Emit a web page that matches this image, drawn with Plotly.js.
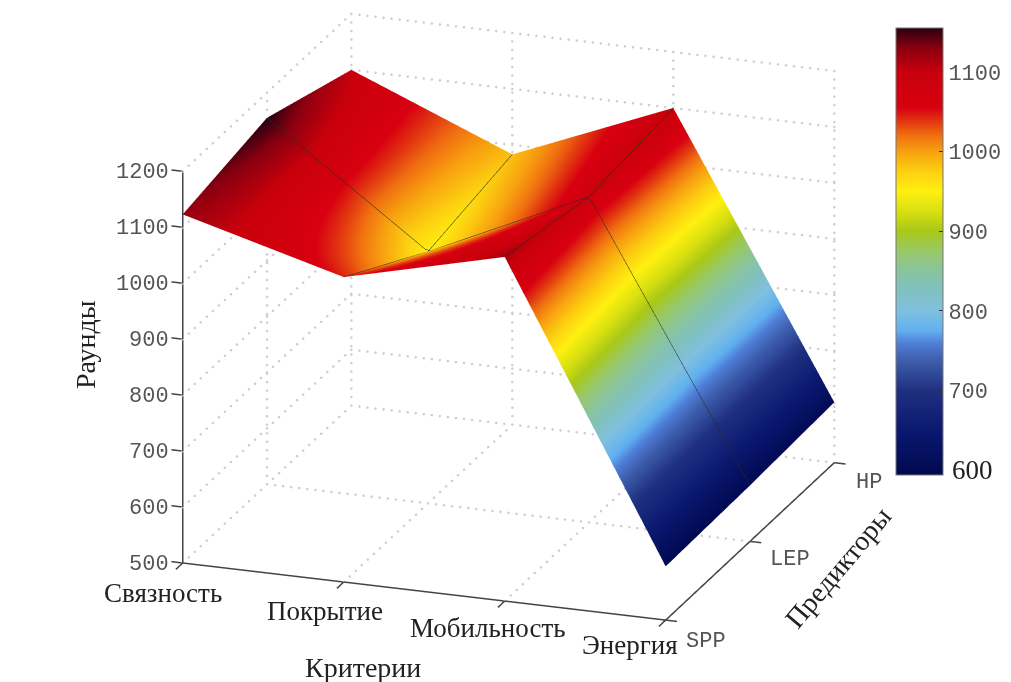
<!DOCTYPE html>
<html><head><meta charset="utf-8">
<script src="https://cdn.plot.ly/plotly-3.0.1.min.js"></script>
<style>html,body{margin:0;padding:0;background:#fff}#c{width:1011px;height:682px}</style>
</head><body><div id="c"></div>
<script>
const criteria = ['Связность','Покрытие','Мобильность','Энергия'];
const predictors = ['SPP','LEP','HP'];
const roundsSPP = [1123,1045,1115,596];
const roundsLEP = [1155,950,1082,600];
const roundsHP  = [1100,983,1100,608];
const zTicks = [500,600,700,800,900,1000,1100,1200];
const cbTicks = [700,800,900,1000,1100];
const cMin = 594, cMax = 1155;
const colorStops = [[594,'#000850'],[650,'#0a1870'],[700,'#203080'],[740,'#4060b0'],[760,'#5080d8'],[775,'#60b0f0'],[800,'#80c0e0'],[825,'#80c0c0'],[850,'#88c4a0'],[875,'#98c868'],[900,'#a8c818'],[925,'#d8e010'],[950,'#fff010'],[975,'#fcd010'],[1000,'#f8a010'],[1020,'#f07010'],[1040,'#e03010'],[1055,'#d80010'],[1100,'#c8000c'],[1130,'#8a0010'],[1155,'#2a0010']];
const colorscale = colorStops.map(s=>[(s[0]-cMin)/(cMax-cMin),s[1]]);
const xi = criteria.map((_,i)=>i), yi = predictors.map((_,i)=>i);
const zr = [500,1200];
const xM=xi[xi.length-1], yM=yi[yi.length-1];
const pad=0.1, zPad=5;

// dotted grid on the three back walls, drawn as small dots (skipping lines that coincide with the solid axes)
const gx=[],gy=[],gz=[];
function dots(a,b,n){for(let i=0;i<=n;i++){const t=i/n;gx.push(a[0]+(b[0]-a[0])*t);gy.push(a[1]+(b[1]-a[1])*t);gz.push(a[2]+(b[2]-a[2])*t);}}
const nX=60,nY=28,nZ=46;
xi.forEach(x=>{if(x!==xM)dots([x,0,zr[0]],[x,yM,zr[0]],nY);dots([x,yM,zr[0]],[x,yM,zr[1]],nZ);});
yi.forEach(y=>{if(y!==0){dots([0,y,zr[0]],[xM,y,zr[0]],nX);dots([0,y,zr[0]],[0,y,zr[1]],nZ);}});
zTicks.forEach(z=>{dots([0,0,z],[0,yM,z],nY);dots([0,yM,z],[xM,yM,z],nX);});

// solid axis lines and tick marks
const ax=[],ay=[],az=[];
function seg(a,b){ax.push(a[0],b[0],null);ay.push(a[1],b[1],null);az.push(a[2],b[2],null);}
seg([0,0,zr[0]],[xM,0,zr[0]]);
seg([xM,0,zr[0]],[xM,yM,zr[0]]);
seg([0,0,zr[0]],[0,0,zr[1]]);
xi.forEach(x=>seg([x,0,zr[0]],[x,-0.08,zr[0]]));
yi.forEach(y=>seg([xM,y,zr[0]],[xM+0.07,y,zr[0]]));
zTicks.forEach(z=>seg([0,0,z],[-0.07,0,z]));

const surf = {type:'surface',x:xi,y:yi,z:[roundsSPP,roundsLEP,roundsHP],
  colorscale,cmin:cMin,cmax:cMax,hoverinfo:'skip',
  lighting:{ambient:1,diffuse:0,specular:0,roughness:1,fresnel:0},
  contours:{x:{show:true,start:0,end:3,size:1,color:'#2a2a18',width:1,highlight:false},
            y:{show:true,start:0,end:2,size:1,color:'#2a2a18',width:1,highlight:false},
            z:{show:false,highlight:false}},
  colorbar:{x:896/1011,xanchor:'left',xpad:0,y:1-251.5/682,yanchor:'middle',ypad:0,lenmode:'pixels',len:447,thicknessmode:'pixels',thickness:47,
    tickvals:cbTicks,ticktext:cbTicks.map(String),ticks:'inside',ticklen:4,tickcolor:'#333',outlinecolor:'#777',outlinewidth:1,
    tickfont:{family:'Liberation Mono',size:22,color:'#555'}}};
const grid = {type:'scatter3d',mode:'markers',x:gx,y:gy,z:gz,showlegend:false,hoverinfo:'skip',
  marker:{color:'#cfcfcf',size:1.5,line:{width:0}}};
const axes = {type:'scatter3d',mode:'lines',x:ax,y:ay,z:az,connectgaps:false,showlegend:false,hoverinfo:'skip',
  line:{color:'#444',width:3}};
const axBase = {visible:false,showbackground:false,showgrid:false,zeroline:false,showspikes:false,showline:false,ticks:'',showticklabels:false,title:{text:''}};
const serif={family:'Liberation Serif',size:27,color:'#222'}, mono={family:'Liberation Mono',size:22,color:'#555'};
const sceneNotes=[];
const xShift=[[-20,-30],[-19,-29],[-17,-27],[-36,-25]];
criteria.forEach((t,i)=>sceneNotes.push({x:i,y:0,z:zr[0],text:t,showarrow:false,font:serif,xanchor:'center',yanchor:'middle',xshift:xShift[i][0],yshift:xShift[i][1]}));
const yShift=[[40,-21],[40,-18],[35,-20]];
predictors.forEach((t,i)=>sceneNotes.push({x:xM,y:i,z:zr[0],text:t,showarrow:false,font:mono,xanchor:'center',yanchor:'middle',xshift:yShift[i][0],yshift:yShift[i][1]}));
zTicks.forEach(z=>sceneNotes.push({x:0,y:0,z:z,text:String(z),showarrow:false,font:mono,xanchor:'right',yanchor:'middle',xshift:-12,yshift:-1}));
const layout = {width:1011,height:682,margin:{l:0,r:0,t:0,b:0},paper_bgcolor:'#fff',showlegend:false,
  scene:{domain:{x:[0.006,1],y:[0.07,1]},aspectmode:'manual',aspectratio:{x:1.725,y:1.745,z:1.3287},
    camera:{projection:{type:'orthographic'},eye:{x:0.316*2.2,y:-0.888*2.2,z:0.332*2.2},up:{x:0,y:0,z:1},center:{x:0,y:0,z:0}},
    xaxis:Object.assign({},axBase,{range:[-pad,xM+pad]}),
    yaxis:Object.assign({},axBase,{range:[-pad,yM+pad]}),
    zaxis:Object.assign({},axBase,{range:[zr[0]-zPad,zr[1]+zPad]}),
    annotations:sceneNotes},
  annotations:[
   {text:'Раунды',x:85/1011,y:1-345/682,xref:'paper',yref:'paper',xanchor:'center',yanchor:'middle',textangle:-90,showarrow:false,font:{family:'Liberation Serif',size:28,color:'#222'}},
   {text:'Критерии',x:363/1011,y:1-667/682,xref:'paper',yref:'paper',xanchor:'center',yanchor:'middle',showarrow:false,font:{family:'Liberation Serif',size:28,color:'#222'}},
   {text:'Предикторы',x:838/1011,y:1-567/682,xref:'paper',yref:'paper',xanchor:'center',yanchor:'middle',textangle:-50,showarrow:false,font:{family:'Liberation Serif',size:28,color:'#222'}},
   {text:'600',x:972/1011,y:1-470/682,xref:'paper',yref:'paper',xanchor:'center',yanchor:'middle',showarrow:false,font:{family:'Liberation Serif',size:27,color:'#222'}}
  ]};
Plotly.newPlot('c',[surf,grid,axes],layout,{displayModeBar:false});
</script></body></html>
